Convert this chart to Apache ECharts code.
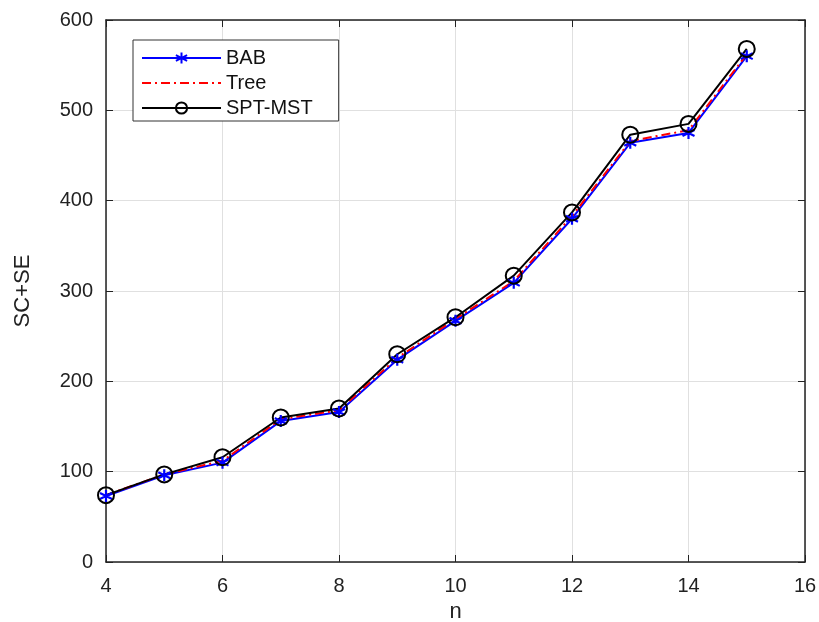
<!DOCTYPE html>
<html>
<head>
<meta charset="UTF-8">
<title>SC+SE</title>
<script src="https://cdn.jsdelivr.net/npm/echarts@6/dist/echarts.min.js"></script>
</head>
<body style="margin:0">
<div id="chart" style="width:819px;height:622px;"></div>
<script>
// data
var nValues = [4, 5, 6, 7, 8, 9, 10, 11, 12, 13, 14, 15];
var babValues = [73, 96, 110, 156, 166, 224, 267, 309, 380, 464, 475, 560];
var treeValues = [74, 97, 112, 158, 168, 226, 269, 311, 383, 466, 478, 562];
var sptValues = [74, 97, 116, 160, 170, 230, 271, 317, 387, 473, 485, 568];

function pairs(ys) {
  return nValues.map(function (n, i) { return [n, ys[i]]; });
}

var font = 'Liberation Sans';
var asterisk = 'path://M0 -5L0 5M-4.33 -2.5L4.33 2.5M-4.33 2.5L4.33 -2.5';
var tickStyle = { inside: true, length: 7, lineStyle: { color: '#222' } };

var chart = echarts.init(document.getElementById('chart'));
chart.setOption({
  animation: false,
  backgroundColor: '#fff',
  grid: { left: 106, right: 14, top: 20, bottom: 60, outerBoundsMode: 'none' },
  legend: {
    orient: 'vertical',
    left: 133, top: 40,
    padding: [8, 26, 3, 8],
    itemGap: 5,
    itemWidth: 79, itemHeight: 14,
    borderColor: '#333', borderWidth: 1,
    backgroundColor: '#fff',
    textStyle: { fontFamily: font, fontSize: 20, color: '#111' },
    data: ['BAB', { name: 'Tree', itemStyle: { opacity: 0 } }, 'SPT-MST']
  },
  xAxis: [{
    type: 'value', min: 4, max: 16, interval: 2,
    name: 'n', nameLocation: 'middle', nameGap: 38,
    nameTextStyle: { fontFamily: font, fontSize: 22, color: '#222' },
    axisLine: { lineStyle: { color: '#222', width: 1.5 } },
    axisTick: tickStyle,
    axisLabel: { fontFamily: font, fontSize: 20, color: '#222', margin: 14 },
    splitLine: { show: true, lineStyle: { color: '#e0e0e0' } }
  }, {
    type: 'value', min: 4, max: 16, interval: 2, position: 'top',
    axisLine: { show: true, onZero: false, lineStyle: { color: '#222', width: 1.5 } },
    axisTick: tickStyle,
    axisLabel: { show: false },
    splitLine: { show: false }
  }],
  yAxis: [{
    type: 'value', min: 0, max: 600, interval: 100,
    name: 'SC+SE', nameLocation: 'middle', nameGap: 72,
    nameTextStyle: { fontFamily: font, fontSize: 22, color: '#222' },
    axisLine: { show: true, lineStyle: { color: '#222', width: 1.5 } },
    axisTick: tickStyle,
    axisLabel: { fontFamily: font, fontSize: 20, color: '#222', margin: 13 },
    splitLine: { show: true, lineStyle: { color: '#e0e0e0' } }
  }, {
    type: 'value', min: 0, max: 600, interval: 100, position: 'right',
    axisLine: { show: true, onZero: false, lineStyle: { color: '#222', width: 1.5 } },
    axisTick: tickStyle,
    axisLabel: { show: false },
    splitLine: { show: false }
  }],
  series: [{
    name: 'BAB', type: 'line', data: pairs(babValues),
    symbol: asterisk, symbolSize: 12,
    lineStyle: { color: '#0000ff', width: 2 },
    itemStyle: { color: '#0000ff', borderColor: '#0000ff', borderWidth: 2.2 }
  }, {
    name: 'Tree', type: 'line', data: pairs(treeValues),
    symbol: 'none',
    lineStyle: { color: '#ff0000', width: 2, type: [9, 4, 2, 4] },
    itemStyle: { color: '#ff0000' }
  }, {
    name: 'SPT-MST', type: 'line', data: pairs(sptValues),
    symbol: 'circle', symbolSize: 16,
    lineStyle: { color: '#000', width: 2 },
    itemStyle: { color: 'rgba(0,0,0,0)', borderColor: '#000', borderWidth: 2 }
  }]
});
</script>
</body>
</html>
